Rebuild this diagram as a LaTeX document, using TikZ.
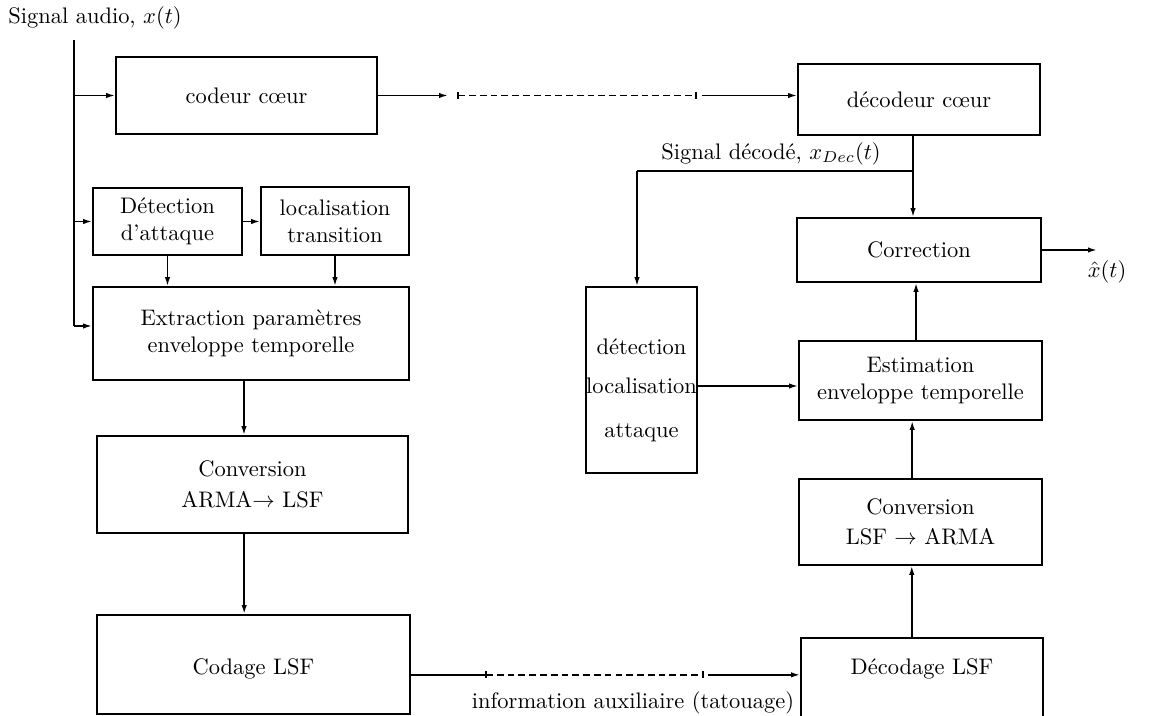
\documentclass[tikz,border=0pt]{standalone}
\usepackage{amsmath}
\usepackage{amssymb}
\usetikzlibrary{arrows.meta}

\begin{document}
\begin{tikzpicture}[x=0.01564cm,y=-0.01564cm]
        \tikzset{blk/.style={draw,line width=0.75pt,inner sep=0pt,align=center}};
        \tikzset{line/.style={line width=0.75pt}};
        \tikzset{arr/.style={line width=0.75pt,-{Latex[length=4pt,width=2.4pt]}}};
        \tikzset{dsh/.style={line width=0.75pt,dash pattern=on 3pt off 1.8pt,{Bar[width=3pt]}-{Bar[width=3pt]}}};

        \useasboundingbox (0,0) rectangle (1149,715);
        \clip (0,0) rectangle (1149,715);

        % codeur
        \node (sigin) at (95,18) {Signal audio, $x(t)$};
        \coordinate (in) at (74,40);
        \coordinate (inend) at (74,326);
        \node[blk,minimum width=4.082cm,minimum height=1.204cm] (codeur) at (246.5,95.5) {codeur c\oe ur};
        \node[blk,minimum width=2.330cm,minimum height=1.048cm] (detatt) at (167.5,221.5) {D\'etection\\d'attaque};
        \node[blk,minimum width=2.315cm,minimum height=1.064cm] (loctr) at (335,221) {localisation\\transition};
        \node[blk,minimum width=4.942cm,minimum height=1.455cm] (extr) at (251,333.5) {Extraction param\`etres\\enveloppe temporelle};
        \node[blk,minimum width=4.864cm,minimum height=1.517cm] (convAL) at (252.5,484.5) {Conversion\\[2pt]ARMA$\rightarrow$ LSF};
        \node[blk,minimum width=4.895cm,text height=26.7pt,text depth=17.4pt,anchor=north] (codage) at (253.5,614) {Codage LSF};

        \draw[line] (in) -- (inend);
        \draw[arr] (in |- codeur.west) -- (codeur.west);
        \draw[arr] (in |- detatt.west) -- (detatt.west);
        \draw[arr] (inend) -- (inend -| extr.west);
        \draw[arr] (detatt.east) -- (detatt.east -| loctr.west);
        \draw[arr] (detatt.south) -- (detatt.south |- extr.north);
        \draw[arr] (loctr.south) -- (loctr.south |- extr.north);
        \draw[arr] ([xshift=-0.11cm]extr.south) -- ([xshift=-0.11cm]extr.south |- convAL.north);
        \draw[arr] ([xshift=-0.13cm]convAL.south) -- ([xshift=-0.13cm]convAL.south |- codage.north);

        % canal
        \coordinate (t1) at (448,95.5);
        \coordinate (t2) at (457,95.5);
        \coordinate (t3) at (697,95.5);
        \coordinate (t4) at (702,95.5);
        \draw[arr] (codeur.east) -- (t1);
        \draw[dsh] (t2) -- (t3);

        \path (codage.base east) ++(74,0) coordinate (b1) ++(219,0) coordinate (b2) ++(4,0) coordinate (b3);
        \draw[line] (codage.base east) -- (b1);
        \draw[dsh] (b1) -- (b2);
        \node (aux) at (633,703) {information auxiliaire (tatouage)};

        % decodeur
        \node[blk,minimum width=3.785cm,minimum height=1.110cm] (decodeur) at (919,99.5) {d\'ecodeur c\oe ur};
        \node[blk,minimum width=3.816cm,minimum height=1.001cm] (correction) at (919,250) {Correction};
        \node[blk,minimum width=1.736cm,minimum height=2.909cm] (detect) at (641.5,380) {};
        \node[align=center,inner sep=0pt] (detectlbl) at (641.5,390) {d\'etection\\[5.4pt]localisation\\[7.6pt]attaque};
        \node[blk,minimum width=3.801cm,minimum height=1.236cm] (estim) at (920.5,380.5) {Estimation\\enveloppe temporelle};
        \node[blk,minimum width=3.801cm,minimum height=1.345cm] (convLA) at (920.5,522) {Conversion\\[1.5pt]LSF $\rightarrow$ ARMA};
        \node[blk,minimum width=3.785cm,text height=16.5pt,text depth=36pt,anchor=north] (decodage) at (922,637) {D\'ecodage LSF};

        \draw[arr] (t4) -- (t4 -| decodeur.west);
        \draw[arr] (b3) -- (b3 -| decodage.west);

        \node (sigdec) at (771,154) {Signal d\'ecod\'e, $x_{Dec}(t)$};
        \coordinate (br) at (913,171);
        \coordinate (brl) at (637,171);
        \draw[arr] (br |- decodeur.south) -- (br |- correction.north);
        \draw[line] (br) -- (brl);
        \draw[arr] (brl) -- (brl |- detect.north);
        \draw[arr] ([yshift=-0.094cm]detect.east) -- ([yshift=-0.094cm]detect.east -| estim.west);
        \draw[arr] ([xshift=-0.07cm]estim.north) -- ([xshift=-0.07cm]estim.north |- correction.south);
        \draw[arr] ([xshift=-0.13cm]convLA.north) -- ([xshift=-0.13cm]convLA.north |- estim.south);
        \draw[arr] ([xshift=-0.16cm]decodage.north) -- ([xshift=-0.16cm]decodage.north |- convLA.south);

        \coordinate (xout) at (1097,250);
        \draw[arr] (correction.east) -- (xout);
        \node[inner sep=1pt] (xhat) at (1107,272) {$\hat{x}(t)$};
    \end{tikzpicture}
\end{document}
